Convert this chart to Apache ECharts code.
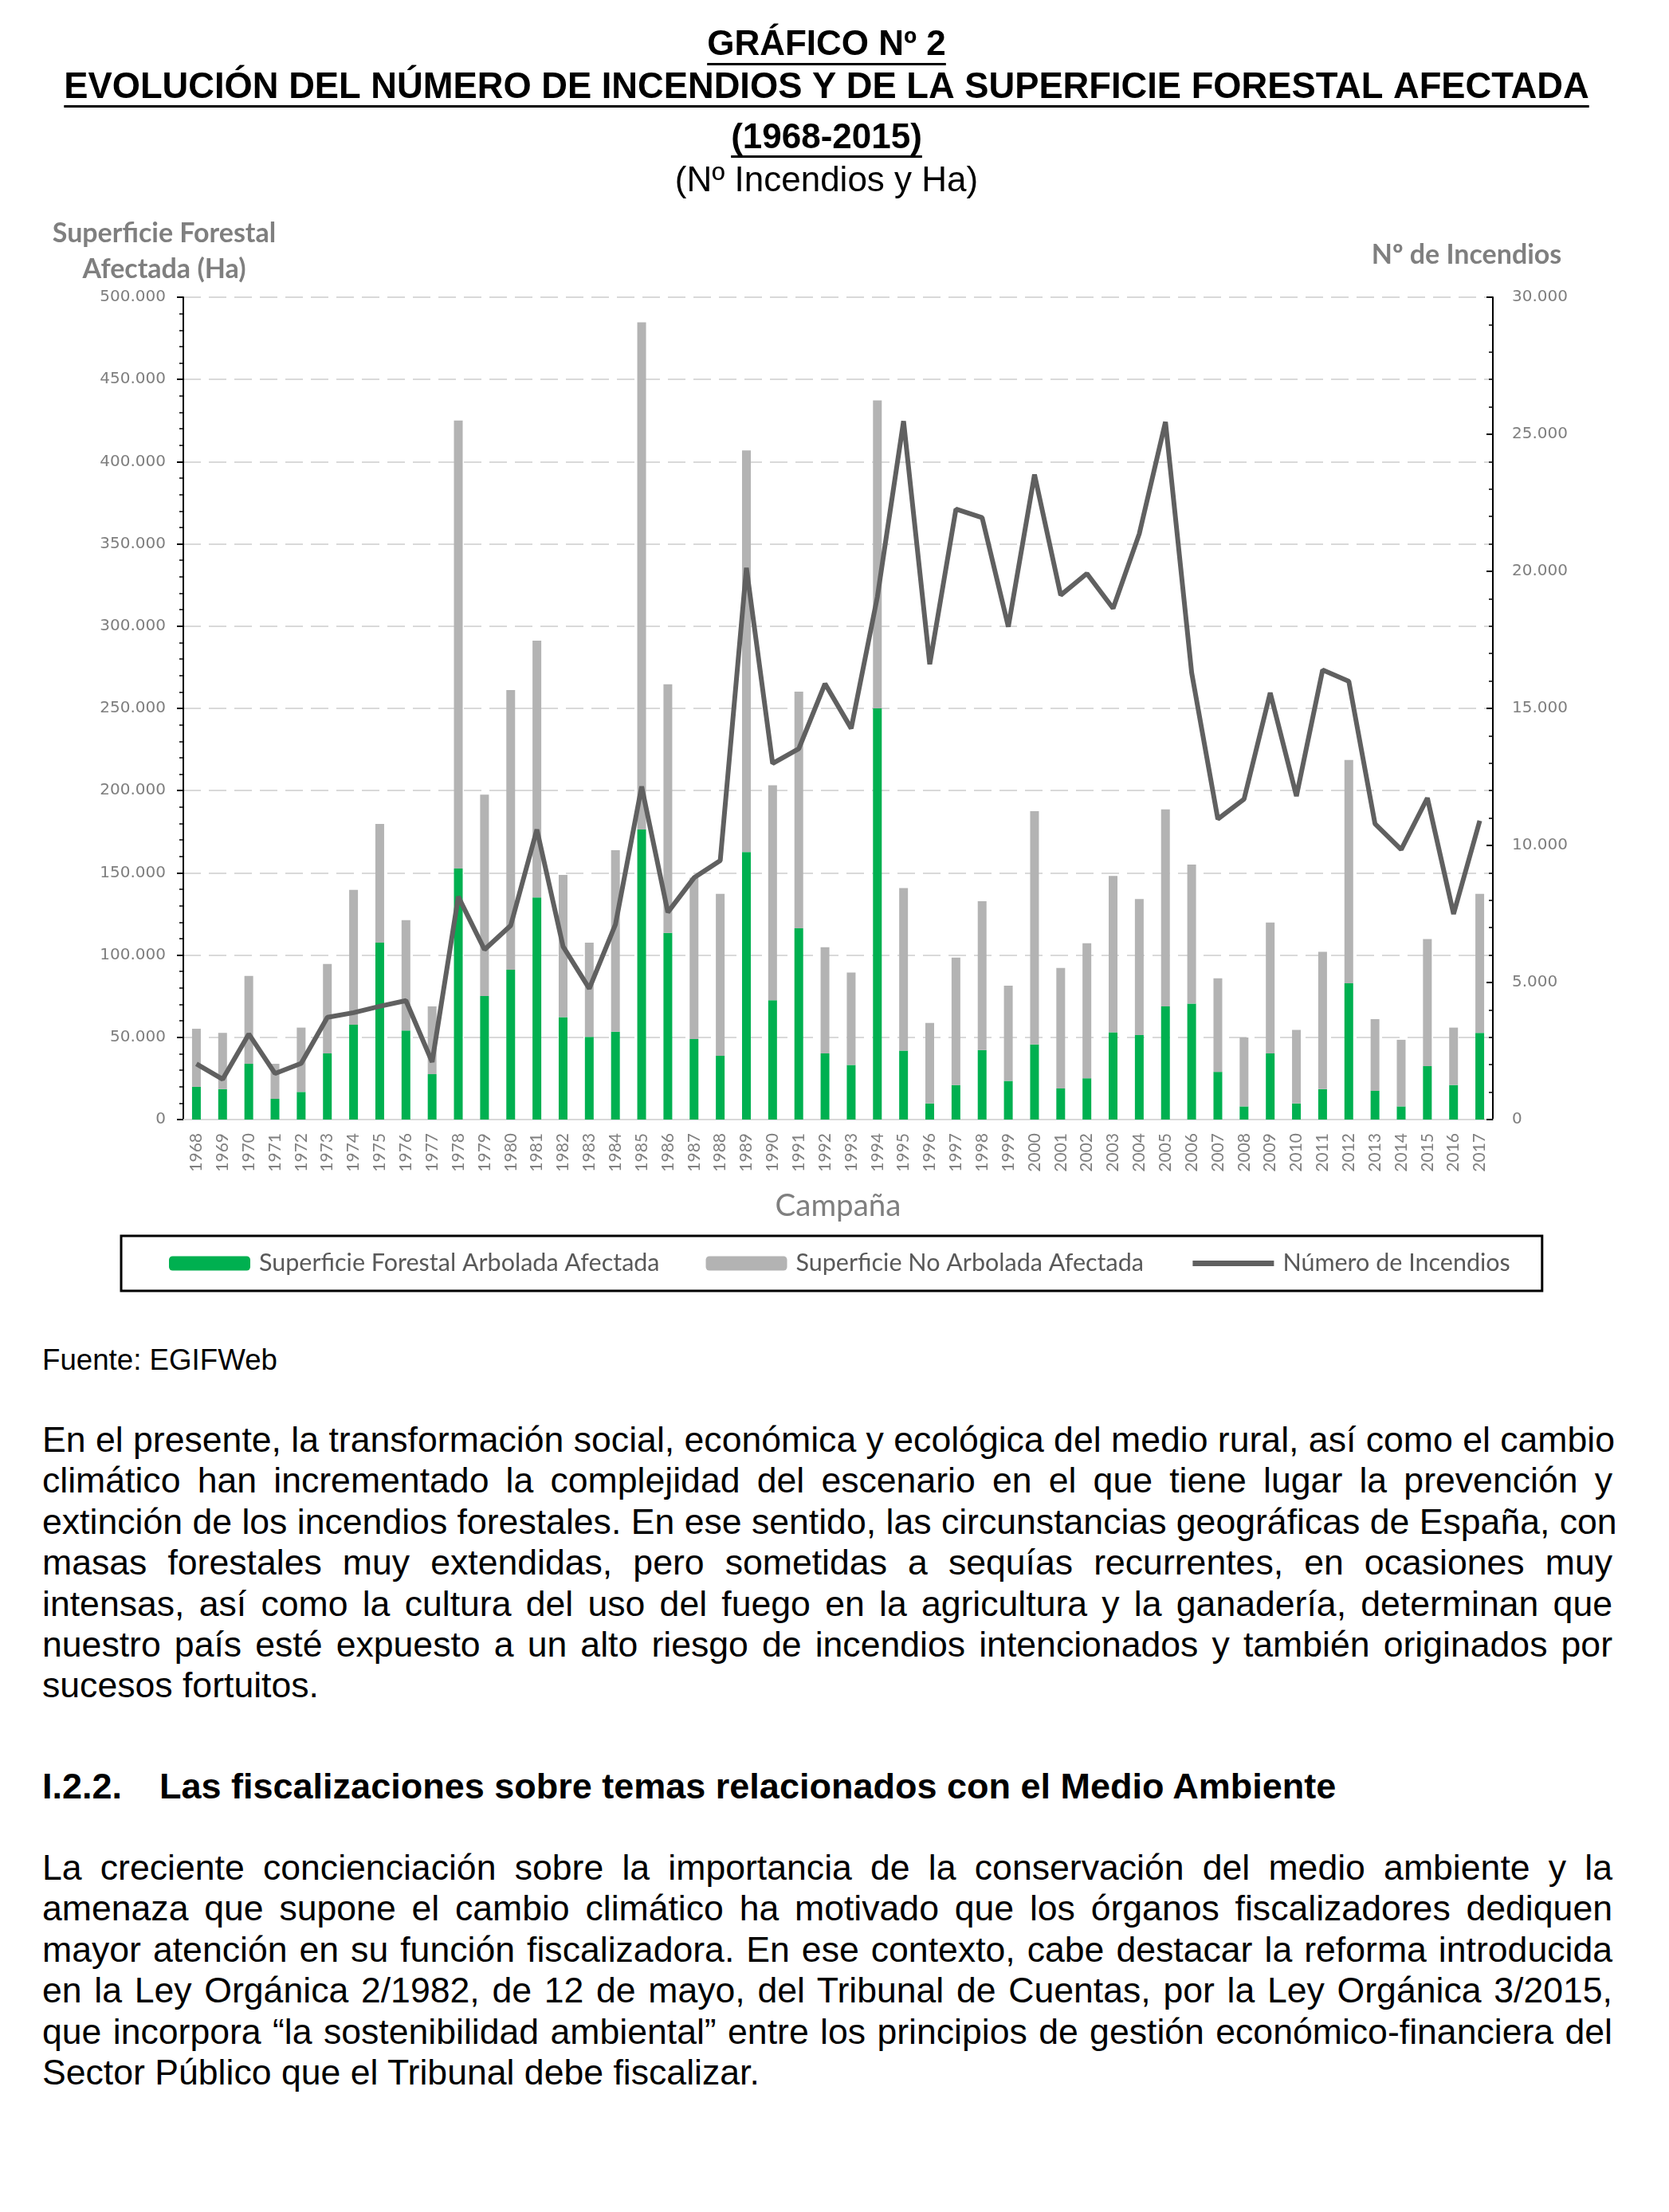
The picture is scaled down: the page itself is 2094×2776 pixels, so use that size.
<!DOCTYPE html>
<html>
<head>
<meta charset="utf-8">
<script src="https://cdn.jsdelivr.net/npm/echarts@6/dist/echarts.min.js"></script>
<style>
html,body{margin:0;padding:0;background:#fff;}
#page{position:relative;width:2094px;height:2776px;overflow:hidden;}
#chart{position:absolute;left:0;top:0;width:2094px;height:1660px;}
.t{position:absolute;left:53px;width:1970px;font-family:"Liberation Sans",Arial,sans-serif;color:#000;}
.p div{font-size:44.6px;line-height:51.4px;height:51.4px;white-space:nowrap;text-align:justify;text-align-last:justify;}
.p div.last{text-align-last:left;}
</style>
</head>
<body>
<div id="page">
<div id="chart"></div>
<div class="t" style="top:1686px;font-size:36.7px;line-height:42px;">Fuente: EGIFWeb</div>
<div class="t p" style="top:1781px;">
<div>En el presente, la transformación social, económica y ecológica del medio rural, así como el cambio</div>
<div>climático han incrementado la complejidad del escenario en el que tiene lugar la prevención y</div>
<div>extinción de los incendios forestales. En ese sentido, las circunstancias geográficas de España, con</div>
<div>masas forestales muy extendidas, pero sometidas a sequías recurrentes, en ocasiones muy</div>
<div>intensas, así como la cultura del uso del fuego en la agricultura y la ganadería, determinan que</div>
<div>nuestro país esté expuesto a un alto riesgo de incendios intencionados y también originados por</div>
<div class="last">sucesos fortuitos.</div>
</div>
<div class="t" style="top:2216px;font-size:45px;line-height:51.4px;font-weight:bold;white-space:nowrap;"><span style="display:inline-block;width:147px;">I.2.2.</span>Las fiscalizaciones sobre temas relacionados con el Medio Ambiente</div>
<div class="t p" style="top:2318px;">
<div>La creciente concienciación sobre la importancia de la conservación del medio ambiente y la</div>
<div>amenaza que supone el cambio climático ha motivado que los órganos fiscalizadores dediquen</div>
<div>mayor atención en su función fiscalizadora. En ese contexto, cabe destacar la reforma introducida</div>
<div>en la Ley Orgánica 2/1982, de 12 de mayo, del Tribunal de Cuentas, por la Ley Orgánica 3/2015,</div>
<div>que incorpora “la sostenibilidad ambiental” entre los principios de gestión económico-financiera del</div>
<div class="last">Sector Público que el Tribunal debe fiscalizar.</div>
</div>
</div>
<script>
// ---- Data ----
const years = ['1968','1969','1970','1971','1972','1973','1974','1975','1976','1977',
  '1978','1979','1980','1981','1982','1983','1984','1985','1986','1987',
  '1988','1989','1990','1991','1992','1993','1994','1995','1996','1997',
  '1998','1999','2000','2001','2002','2003','2004','2005','2006','2007',
  '2008','2009','2010','2011','2012','2013','2014','2015','2016','2017'];
const superficieArbolada = [19900,18500,33900,12600,16800,40200,57600,107600,54100,27600,
  152600,75100,91100,135100,62200,50300,53400,176300,113500,48900,
  38800,162700,72600,116300,40200,33200,250000,41900,9800,21000,
  42300,23500,45700,18900,25100,53100,51300,68800,70500,29000,
  8000,40200,9800,18500,82800,17500,8000,32500,21000,52700];
const superficieNoArbolada = [35300,34200,53400,21300,39100,54400,82100,72200,67100,41200,
  272400,122500,170100,156100,86600,57300,110400,308400,151200,98100,
  98400,244100,130600,143900,64600,56200,187200,98800,48900,77500,
  90400,57900,141800,73300,82100,95000,82800,119800,84500,56900,
  41900,79600,44700,83500,135800,43600,40500,77200,34900,84500];
const numeroIncendios = [2030,1470,3120,1680,2050,3730,3900,4130,4340,2100,
  8130,6200,7080,10580,6310,4780,7120,12150,7560,8820,
  9450,20130,12990,13530,15900,14270,19070,25480,16610,22270,
  21960,17980,23530,19130,19920,18650,21370,25450,16300,10960,
  11690,15570,11800,16400,15990,10790,9850,11730,7500,10900];
const leftTicks = {min:0, max:500000, interval:50000};
const rightTicks = {min:0, max:30000, interval:5000};
const titleLines = ['GRÁFICO Nº 2','EVOLUCIÓN DEL NÚMERO DE INCENDIOS Y DE LA SUPERFICIE FORESTAL AFECTADA','(1968-2015)','(Nº Incendios y Ha)'];
const seriesNames = ['Superficie Forestal Arbolada Afectada','Superficie No Arbolada Afectada','Número de Incendios'];

function fmt(v){return String(v).replace(/\B(?=(\d{3})+(?!\d))/g,'.');}
const mctx = document.createElement('canvas').getContext('2d');
function tw(text,font){mctx.font=font;return mctx.measureText(text).width;}

const CX = 1037;
const tDefs = [
  {text:titleLines[0], y:57, size:44, bold:true, ul:79},
  {text:titleLines[1], y:111, size:45.3, bold:true, ul:132},
  {text:titleLines[2], y:174, size:44, bold:true, ul:195},
  {text:titleLines[3], y:228, size:44, bold:false}
];
const graphic = [];
tDefs.forEach(d=>{
  graphic.push({type:'text', x:CX, y:d.y, style:{text:d.text, fontFamily:'Liberation Sans', fontSize:d.size, fontWeight:d.bold?'bold':'normal', fill:'#000', align:'center', verticalAlign:'middle'}});
  if(d.ul){
    const w = tw(d.text, (d.bold?'bold ':'') + d.size + 'px "Liberation Sans"');
    graphic.push({type:'rect', shape:{x:CX-w/2, y:d.ul, width:w, height:3}, style:{fill:'#000'}});
  }
});
graphic.push({type:'text', x:206, y:293, style:{text:'Superficie Forestal', fontFamily:'Lato', fontSize:34, fontWeight:'bold', fill:'#7f7f7f', align:'center', verticalAlign:'middle'}});
graphic.push({type:'text', x:206, y:338, style:{text:'Afectada (Ha)', fontFamily:'Lato', fontSize:34, fontWeight:'bold', fill:'#7f7f7f', align:'center', verticalAlign:'middle'}});
graphic.push({type:'text', x:1840, y:320, style:{text:'Nº de Incendios', fontFamily:'Lato', fontSize:34, fontWeight:'bold', fill:'#7f7f7f', align:'center', verticalAlign:'middle'}});

const chart = echarts.init(document.getElementById('chart'), null, {renderer:'canvas'});
chart.setOption({
  animation:false,
  backgroundColor:'#fff',
  graphic: graphic,
  grid:{left:230, right:221, top:373, height:1032, containLabel:false},
  legend:{
    data:[{name:seriesNames[0]},{name:seriesNames[1]},
          {name:seriesNames[2], itemStyle:{opacity:0, borderWidth:0}, lineStyle:{color:'#606060', width:7}}],
    left:152, top:1551,
    padding:[19,40,19,60], itemGap:58, itemWidth:102, itemHeight:18,
    borderColor:'#000', borderWidth:3,
    textStyle:{fontFamily:'Lato', fontSize:30.5, color:'#595959', padding:[0,0,0,6]}
  },
  xAxis:{
    type:'category', data:years,
    name:'Campaña', nameLocation:'middle', nameGap:89,
    nameTextStyle:{fontFamily:'Lato', fontSize:38.5, color:'#7f7f7f'},
    axisLine:{lineStyle:{color:'#d9d9d9', width:2}},
    axisTick:{alignWithLabel:true, length:6, lineStyle:{color:'#d9d9d9', width:2}},
    axisLabel:{rotate:90, margin:17, fontFamily:'Lato', fontSize:21, color:'#7f7f7f'}
  },
  yAxis:[
    {type:'value', min:leftTicks.min, max:leftTicks.max, interval:leftTicks.interval,
     axisLine:{show:true, lineStyle:{color:'#000', width:2}},
     axisTick:{show:true, length:8, lineStyle:{color:'#000', width:2}},
     minorTick:{show:true, splitNumber:5, length:5, lineStyle:{color:'#000', width:1.5}},
     splitLine:{show:true, lineStyle:{color:'#d9d9d9', width:2, type:[22,10]}},
     axisLabel:{margin:22, fontFamily:'DejaVu Sans', fontSize:20, color:'#7f7f7f', formatter:fmt}},
    {type:'value', min:rightTicks.min, max:rightTicks.max, interval:rightTicks.interval,
     axisLine:{show:true, lineStyle:{color:'#000', width:2}},
     axisTick:{show:true, inside:true, length:8, lineStyle:{color:'#000', width:2}},
     minorTick:{show:true, splitNumber:5, length:5, lineStyle:{color:'#000', width:1.5}},
     splitLine:{show:false},
     axisLabel:{margin:24, fontFamily:'DejaVu Sans', fontSize:20, color:'#7f7f7f', formatter:fmt}}
  ],
  series:[
    {name:seriesNames[0], type:'bar', stack:'sup', data:superficieArbolada, barWidth:11, itemStyle:{color:'#00b050'}},
    {name:seriesNames[1], type:'bar', stack:'sup', data:superficieNoArbolada, barWidth:11, itemStyle:{color:'#b3b3b3'}},
    {name:seriesNames[2], type:'line', yAxisIndex:1, data:numeroIncendios, symbol:'none', z:5,
     lineStyle:{color:'#606060', width:6}, itemStyle:{color:'#606060'}}
  ]
});
</script>
</body>
</html>
